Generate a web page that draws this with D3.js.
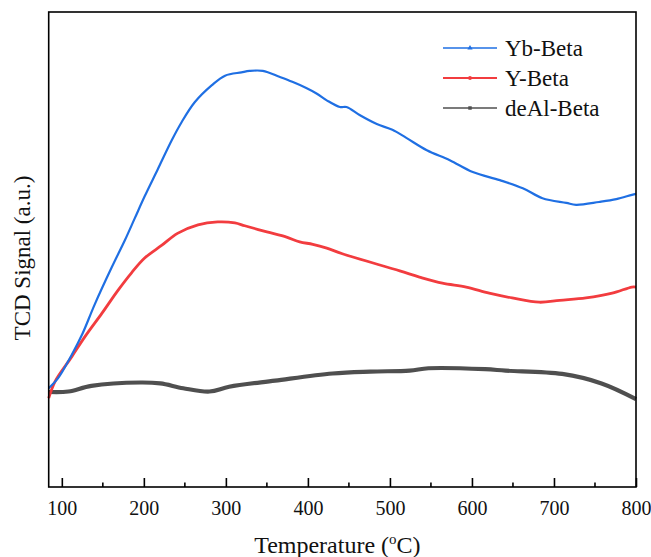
<!DOCTYPE html>
<html>
  <head>
    <meta charset="utf-8">
    <title>TCD signal vs temperature</title>
    <script src="https://cdn.jsdelivr.net/npm/d3@7"></script>
    <style>
      body { margin: 0; background: #fff; }
      svg text { font-family: "Liberation Serif", "Times New Roman", serif; fill: #111; }
    </style>
  </head>
  <body>
    <svg id="chart" width="651" height="557"></svg>
    <script>
      // values (temperature in degC, signal in arbitrary units)
      var ybBeta = [
        [84, 20.8], [95, 22.8], [112, 27.8], [125, 32.2], [140, 38.4], [161, 46.3],
        [177, 52.0], [189, 56.6], [201, 61.2], [217, 66.9], [234, 73.0], [246, 76.8],
        [262, 81.0], [283, 84.6], [299, 86.6], [319, 87.3], [329, 87.6], [345, 87.6],
        [366, 86.3], [381, 85.3], [398, 84.0], [411, 82.8], [423, 81.4], [439, 80.0],
        [447, 80.0], [463, 78.3], [484, 76.4], [503, 75.2], [520, 73.5], [545, 70.9],
        [573, 68.8], [601, 66.3], [634, 64.6], [662, 62.9], [686, 60.8], [715, 59.8],
        [727, 59.4], [755, 60.0], [776, 60.6], [795, 61.5], [800, 61.7]
      ];
      var yBeta = [
        [84, 18.7], [92, 22.3], [112, 27.4], [128, 31.6], [149, 36.6], [168, 41.3],
        [185, 45.1], [201, 48.2], [222, 50.9], [241, 53.4], [266, 55.2], [290, 55.8],
        [311, 55.6], [323, 55.0], [350, 53.7], [374, 52.6], [390, 51.6], [406, 51.1],
        [423, 50.3], [442, 49.1], [512, 45.5], [536, 44.2], [564, 42.9], [593, 42.1],
        [621, 40.8], [649, 39.8], [682, 38.9], [707, 39.3], [739, 39.8], [771, 40.8],
        [795, 42.1], [800, 42.1]
      ];
      var deAlBeta = [
        [84, 20.0], [108, 20.1], [136, 21.3], [196, 22.0], [220, 21.8], [248, 20.8],
        [280, 20.1], [304, 21.1], [360, 22.4], [430, 23.9], [476, 24.3], [524, 24.5],
        [547, 25.0], [616, 24.8], [641, 24.5], [710, 23.8], [758, 21.8], [800, 18.5]
      ];
      var seriesNames = ["Yb-Beta", "Y-Beta", "deAl-Beta"];
      var seriesColors = ["#1f6fe3", "#f23c3f", "#4f4f4f"];
      var xTicks = [100, 200, 300, 400, 500, 600, 700, 800];
      var xMinorTicks = [150, 250, 350, 450, 550, 650, 750];

      (function () {
        var svg = d3.select("#chart");
        var m = { left: 48.7, right: 636, top: 12, bottom: 487 };
        var widths = [2.2, 2.8, 4.2];

        var x = d3.scaleLinear().domain([84, 800]).range([m.left, m.right]);
        var y = d3.scaleLinear().domain([0, 100]).range([m.bottom, m.top]);

        var line = d3.line()
          .x(function (d) { return x(d[0]); })
          .y(function (d) { return y(d[1]); })
          .curve(d3.curveCatmullRom.alpha(0.5));

        // curves, gray first so blue and red sit on top
        var all = [ybBeta, yBeta, deAlBeta];
        [2, 1, 0].forEach(function (i) {
          svg.append("path")
            .datum(all[i])
            .attr("fill", "none")
            .attr("stroke", seriesColors[i])
            .attr("stroke-width", widths[i])
            .attr("stroke-linejoin", "round")
            .attr("d", line);
        });

        // frame
        svg.append("rect")
          .attr("x", m.left).attr("y", m.top)
          .attr("width", m.right - m.left).attr("height", m.bottom - m.top)
          .attr("fill", "none").attr("stroke", "#000").attr("stroke-width", 1.6);

        // bottom axis, ticks pointing in
        var xAxis = svg.append("g")
          .attr("transform", "translate(0," + m.bottom + ")")
          .call(d3.axisBottom(x).tickValues(xTicks).tickSize(-9).tickPadding(14));
        xAxis.select(".domain").remove();
        xAxis.selectAll(".tick line").attr("stroke-width", 1.6);
        xAxis.selectAll("text")
          .style("font-family", "Liberation Serif")
          .style("font-size", "20px")
          .attr("fill", "#111");

        svg.append("g")
          .selectAll("line")
          .data(xMinorTicks)
          .enter()
          .append("line")
          .attr("x1", function (d) { return x(d); })
          .attr("x2", function (d) { return x(d); })
          .attr("y1", m.bottom)
          .attr("y2", m.bottom - 4.5)
          .attr("stroke", "#000")
          .attr("stroke-width", 1.6);

        // axis titles
        var xt = svg.append("text")
          .attr("x", (m.left + m.right) / 2 - 5)
          .attr("y", 553)
          .attr("text-anchor", "middle")
          .style("font-size", "24px");
        xt.append("tspan").text("Temperature (");
        xt.append("tspan").attr("dy", -9).style("font-size", "15px").text("o");
        xt.append("tspan").attr("dy", 9).text("C)");

        svg.append("text")
          .attr("transform", "translate(30,258) rotate(-90)")
          .attr("text-anchor", "middle")
          .style("font-size", "23px")
          .text("TCD Signal (a.u.)");

        // legend
        var markers = [d3.symbolTriangle, d3.symbolCircle, d3.symbolSquare];
        var legend = svg.append("g");
        seriesNames.forEach(function (name, i) {
          var ly = 48 + i * 30;
          legend.append("line")
            .attr("x1", 443).attr("x2", 497)
            .attr("y1", ly).attr("y2", ly)
            .attr("stroke", seriesColors[i])
            .attr("stroke-width", i === 1 ? 2 : 1.5);
          legend.append("path")
            .attr("d", d3.symbol().type(markers[i]).size(12))
            .attr("transform", "translate(470," + ly + ")")
            .attr("fill", seriesColors[i]);
          legend.append("text")
            .attr("x", 505)
            .attr("y", ly + 8)
            .style("font-size", "23px")
            .text(name);
        });
      })();
    </script>
  </body>
</html>
